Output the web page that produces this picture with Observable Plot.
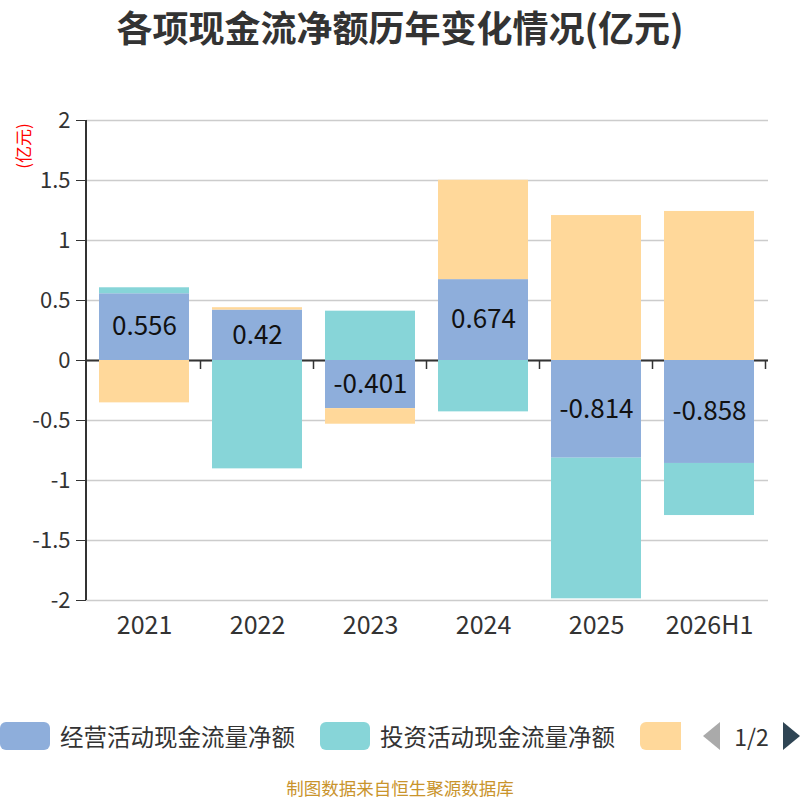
<!DOCTYPE html>
<html><head><meta charset="utf-8">
<script src="https://cdn.jsdelivr.net/npm/d3@7"></script>
<script src="https://cdn.jsdelivr.net/npm/@observablehq/plot@0.6"></script>
<style>
body{margin:0;width:800px;height:800px;position:relative;background:#fff;font-family:"Noto Sans CJK SC","Noto Sans",sans-serif;overflow:hidden}
#title{position:absolute;top:0;left:0;width:800px;text-align:center;font-size:36px;font-weight:bold;color:#333;line-height:52px}
#chart{position:absolute;top:60px;left:0}
#ylabel{position:absolute;left:23px;top:146px;transform:translate(-50%,-50%) rotate(-90deg);color:#f00;font-size:17px;line-height:20px;white-space:nowrap}
#legend{position:absolute;top:720px;left:0;width:681px;height:32px;overflow:hidden}
.item{position:absolute;top:0;height:32px;display:flex;align-items:center;white-space:nowrap}
.sw{width:50px;height:28px;border-radius:6px;margin-right:10px;flex:none}
.lt{font-size:23.5px;line-height:32px;color:#333}
#pager{position:absolute;top:720px;left:700px;width:100px;height:32px;display:flex;align-items:center}
.tri-l{width:0;height:0;border-top:14px solid transparent;border-bottom:14px solid transparent;border-right:17px solid #aaa;margin-left:3px}
.tri-r{width:0;height:0;border-top:14px solid transparent;border-bottom:14px solid transparent;border-left:17px solid #2f4554}
.pg{font-size:23px;line-height:32px;color:#333;width:63px;text-align:center}
#footer{position:absolute;top:777px;left:0;width:800px;text-align:center;font-size:17.5px;color:#c9942c;line-height:22px}
</style></head>
<body>
<div id="title">各项现金流净额历年变化情况(亿元)</div>
<div id="chart"></div>
<div id="ylabel">(亿元)</div>
<div id="legend"></div>
<div id="pager"></div>
<div id="footer">制图数据来自恒生聚源数据库</div>
<script>
const years = ["2021","2022","2023","2024","2025","2026H1"];
const seriesNames = ["经营活动现金流量净额","投资活动现金流量净额","筹资活动现金流量净额"];
const operating = [0.556, 0.42, -0.401, 0.674, -0.814, -0.858];
const investing = [0.05, -0.903, 0.411, -0.428, -1.172, -0.434];
const financing = [-0.353, 0.02, -0.13, 0.828, 1.208, 1.242];
const colors = ["#8eaedb", "#87d5d8", "#ffd89a"];
const yTicks = [-2, -1.5, -1, -0.5, 0, 0.5, 1, 1.5, 2];
const pageLabel = "1/2";
const legendVisibleTexts = 2; // the third legend entry is cut off by the pager in the original

const seriesValues = [operating, investing, financing];
const rows = [];
seriesNames.forEach((s, i) => years.forEach((y, j) => rows.push({year: y, series: s, value: seriesValues[i][j]})));
const opRows = years.map((y, j) => ({year: y, value: operating[j]}));

const plot = Plot.plot({
  width: 800, height: 590,
  marginLeft: 86, marginRight: 32, marginTop: 60, marginBottom: 50,
  style: {fontFamily: '"Noto Sans CJK SC","Noto Sans",sans-serif', background: "transparent"},
  x: {domain: years, type: "band", paddingInner: 0.2, paddingOuter: 0.1},
  y: {domain: [-2, 2]},
  color: {domain: seriesNames, range: colors},
  marks: [
    Plot.gridY(yTicks, {stroke: "#ccc", strokeOpacity: 1, strokeWidth: 1.5}),
    Plot.ruleY([0], {stroke: "#333", strokeWidth: 2}),
    Plot.barY(rows, {x: "year", y: "value", fill: "series", order: seriesNames, inset: 0}),
    Plot.text(opRows, {x: "year", y: d => d.value / 2, text: d => String(d.value), fontSize: 26, fill: "#111"}),
    Plot.axisY({ticks: yTicks, tickSize: 10, tickPadding: 6, fontSize: 22, color: "#333", tickFormat: d => String(d), label: null}),
    Plot.axisX({tickSize: 0, tickPadding: 16, fontSize: 25, color: "#333", label: null})
  ]
});
document.getElementById("chart").appendChild(plot);

// axis line and x category boundary ticks using the plot's scales
const xs = plot.scale("x"), ys = plot.scale("y");
const svg = d3.select(plot);
const step = xs.step ?? (xs.range[1] - xs.range[0]) / years.length;
const bw = xs.bandwidth;
const x0 = xs.range[0];
const y0 = ys.apply(0);
const g = svg.append("g").attr("stroke", "#333");
g.append("line").attr("x1", x0).attr("x2", x0).attr("y1", ys.apply(2)).attr("y2", ys.apply(-2)).attr("stroke-width", 2);
const bounds = years.map(y => xs.apply(y) + bw + (step - bw) / 2);
bounds.forEach(b => g.append("line").attr("x1", b).attr("x2", b).attr("y1", y0).attr("y2", y0 + 9).attr("stroke-width", 1.5));

// legend
const lg = document.getElementById("legend");
seriesNames.forEach((s, i) => {
  const it = document.createElement("div");
  it.className = "item";
  it.style.left = (i * 320) + "px";
  it.innerHTML = `<div class="sw" style="background:${colors[i]}"></div>` + (i < legendVisibleTexts ? `<span class="lt">${s}</span>` : "");
  lg.appendChild(it);
});
document.getElementById("pager").innerHTML =
  `<div class="tri-l"></div><span class="pg">${pageLabel}</span><div class="tri-r"></div>`;
</script>
</body></html>
